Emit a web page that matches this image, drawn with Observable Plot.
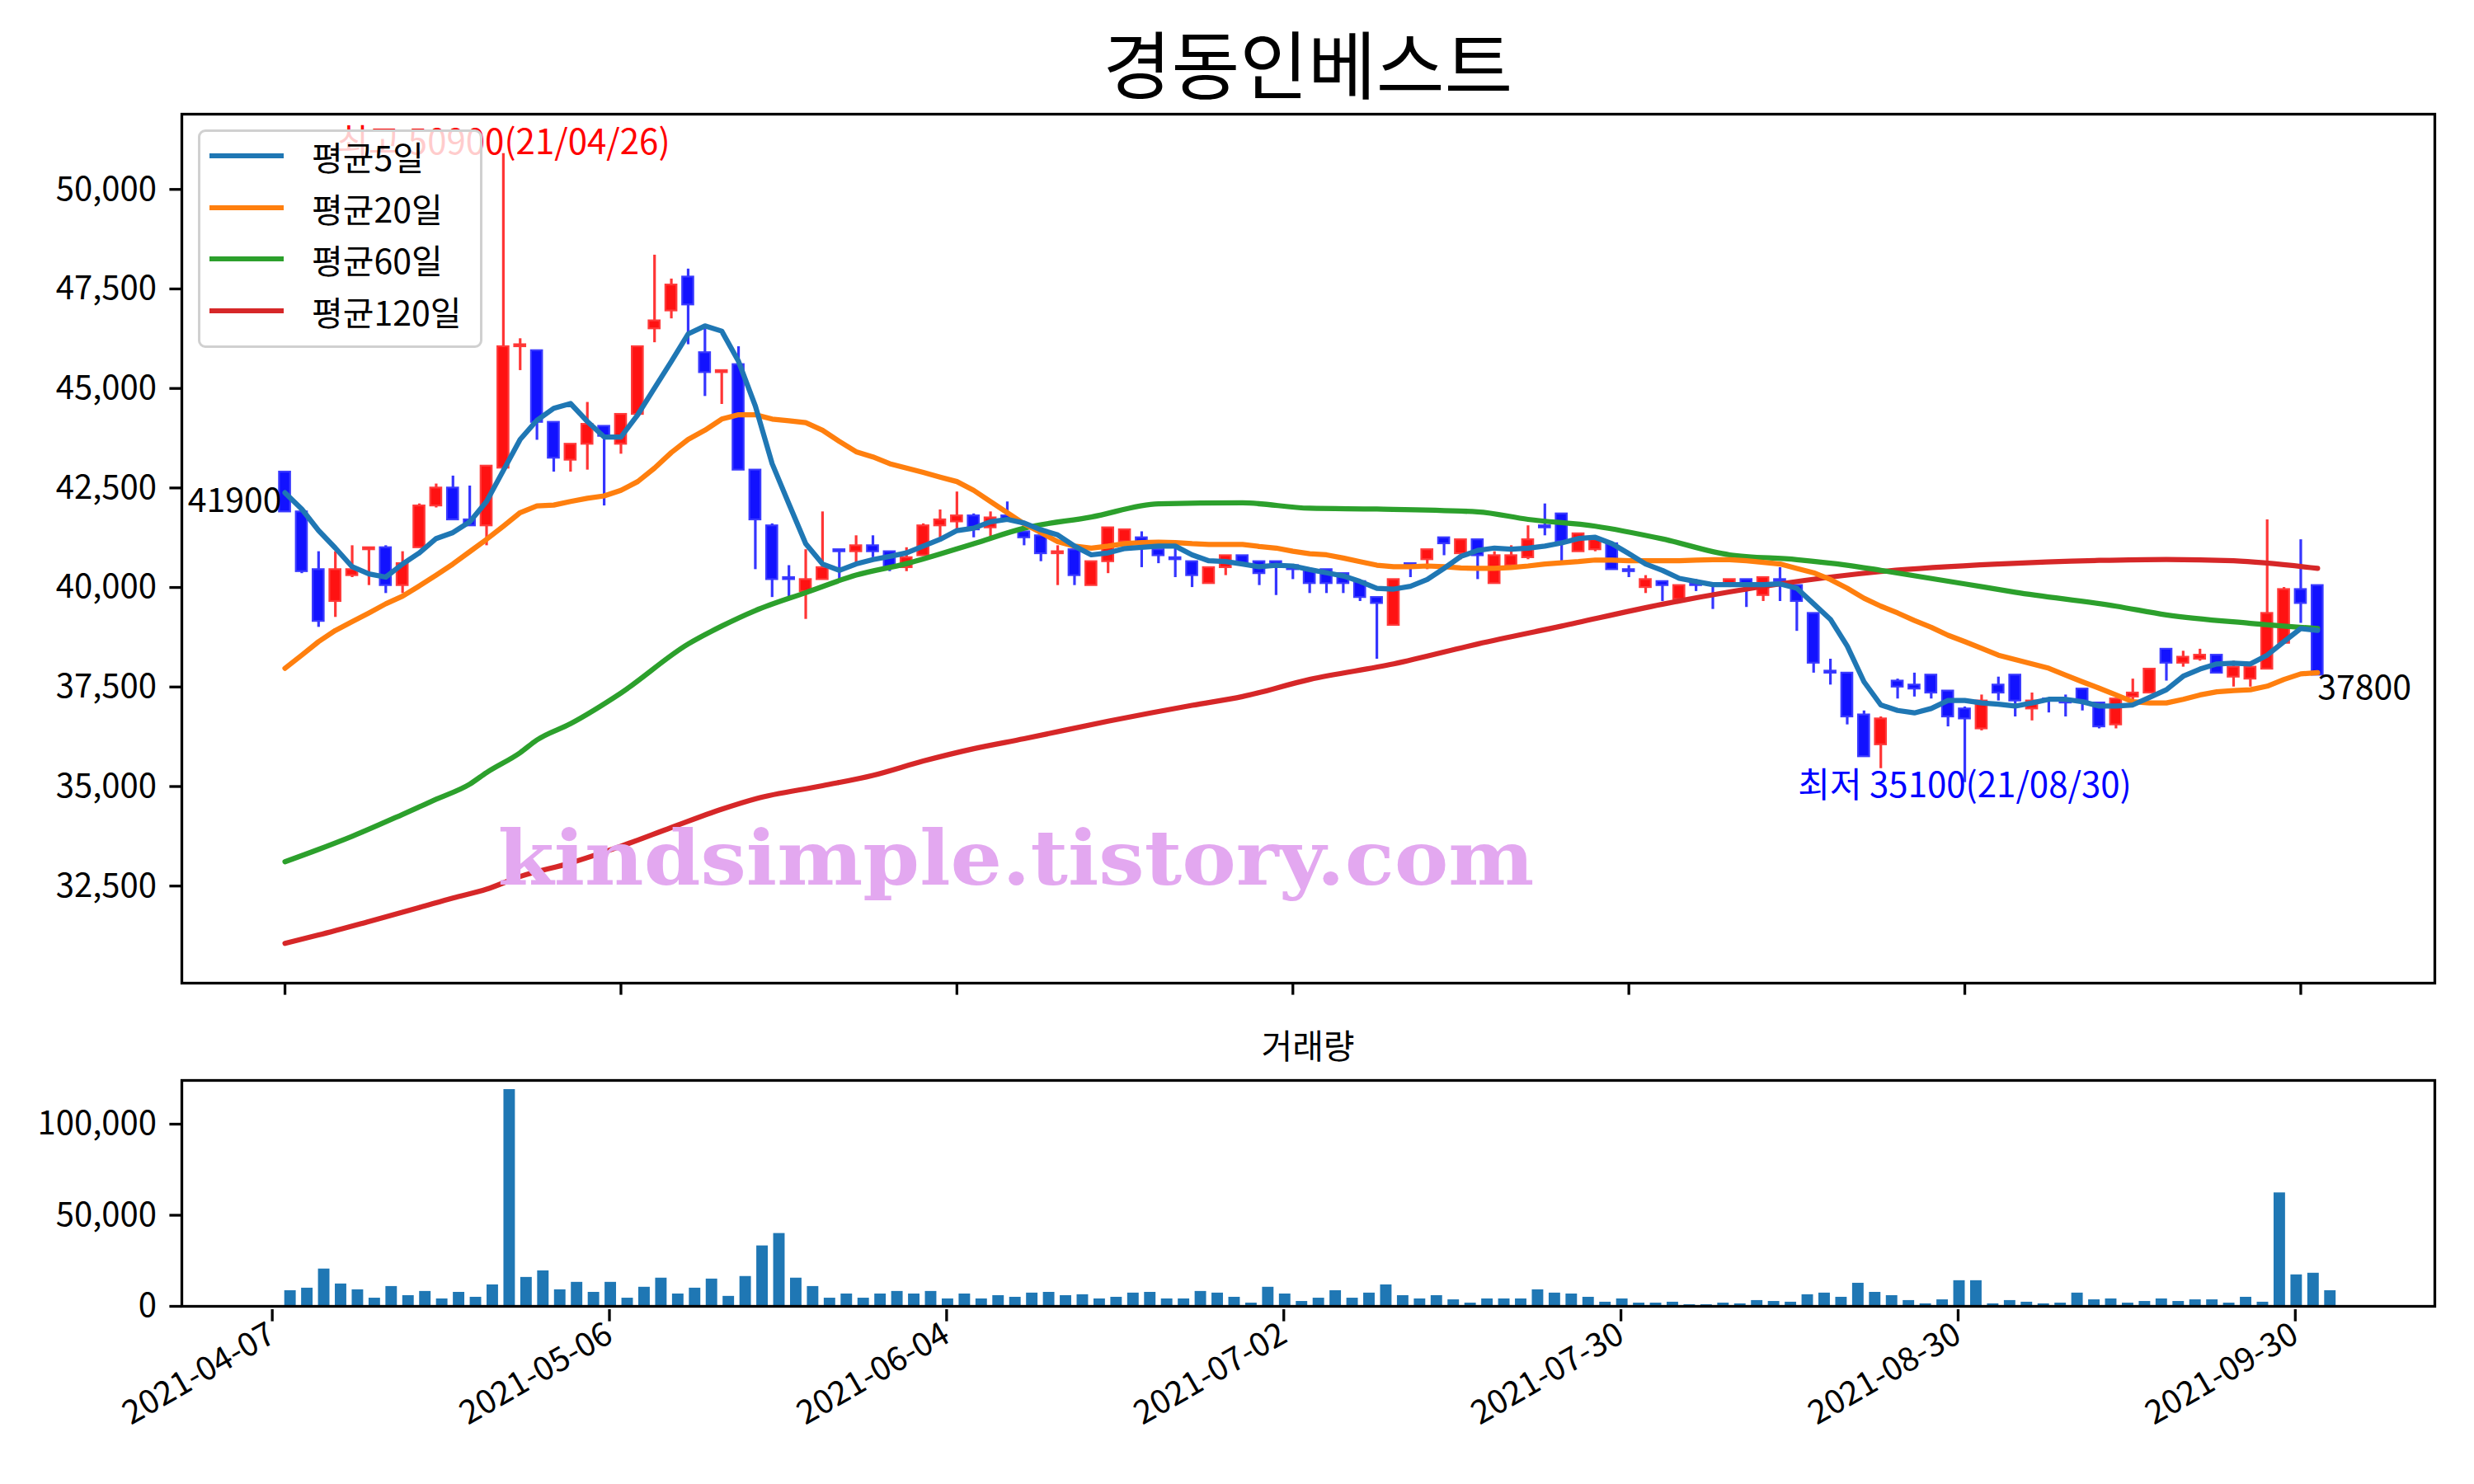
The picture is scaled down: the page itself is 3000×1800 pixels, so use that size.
<!DOCTYPE html>
<html>
<head>
<meta charset="utf-8">
<script src="https://cdn.jsdelivr.net/npm/d3@7"></script>
<script src="https://cdn.jsdelivr.net/npm/@observablehq/plot@0.6"></script>
<style>
  html, body { margin: 0; padding: 0; background: #fff; }
  #wrap { position: relative; width: 3000px; height: 1800px; background: #fff; font-family: 'Noto Sans CJK KR', 'Noto Sans', sans-serif; }
  #wrap > * { position: absolute; }
  .ttl { text-align: center; color: #000; white-space: nowrap; }
  #legend { left: 240px; top: 157px; width: 345px; height: 265px; box-sizing: border-box;
            background: rgba(255,255,255,0.8); border: 3px solid #d0d0d0; border-radius: 9px; }
  #legend .row { position: absolute; left: 0; height: 50px; }
  #legend .sw { position: absolute; left: 11px; width: 90px; height: 6px; top: 22px; }
  #legend .lb { position: absolute; left: 135px; top: 0; font-size: 41px; line-height: 50px; color: #000; white-space: nowrap; }
</style>
</head>
<body>
<div id="wrap"></div>
<script>
// ---------------- data ----------------
const title = "경동인베스트";
const volumeTitle = "거래량";
const dates = [
"2021-04-07","2021-04-08","2021-04-09","2021-04-12","2021-04-13","2021-04-14","2021-04-15","2021-04-16","2021-04-19","2021-04-20",
"2021-04-21","2021-04-22","2021-04-23","2021-04-26","2021-04-27","2021-04-28","2021-04-29","2021-04-30","2021-05-03","2021-05-04",
"2021-05-06","2021-05-07","2021-05-10","2021-05-11","2021-05-12","2021-05-13","2021-05-14","2021-05-17","2021-05-18","2021-05-20",
"2021-05-21","2021-05-24","2021-05-25","2021-05-26","2021-05-27","2021-05-28","2021-05-31","2021-06-01","2021-06-02","2021-06-03",
"2021-06-04","2021-06-07","2021-06-08","2021-06-09","2021-06-10","2021-06-11","2021-06-14","2021-06-15","2021-06-16","2021-06-17",
"2021-06-18","2021-06-21","2021-06-22","2021-06-23","2021-06-24","2021-06-25","2021-06-28","2021-06-29","2021-06-30","2021-07-01",
"2021-07-02","2021-07-05","2021-07-06","2021-07-07","2021-07-08","2021-07-09","2021-07-12","2021-07-13","2021-07-14","2021-07-15",
"2021-07-16","2021-07-19","2021-07-20","2021-07-21","2021-07-22","2021-07-23","2021-07-26","2021-07-27","2021-07-28","2021-07-29",
"2021-07-30","2021-08-02","2021-08-03","2021-08-04","2021-08-05","2021-08-06","2021-08-09","2021-08-10","2021-08-11","2021-08-12",
"2021-08-13","2021-08-17","2021-08-18","2021-08-19","2021-08-20","2021-08-23","2021-08-24","2021-08-25","2021-08-26","2021-08-27",
"2021-08-30","2021-08-31","2021-09-01","2021-09-02","2021-09-03","2021-09-06","2021-09-07","2021-09-08","2021-09-09","2021-09-10",
"2021-09-13","2021-09-14","2021-09-15","2021-09-16","2021-09-17","2021-09-23","2021-09-24","2021-09-27","2021-09-28","2021-09-29",
"2021-09-30","2021-10-01"];
const open = [
42900,41900,40450,39650,40300,40950,41000,40050,41000,42050,42500,41700,41550,43000,46050,45950,44150,43200,43600,44050,
43600,44350,46500,46950,47800,45900,45400,45600,42950,41550,40250,39900,40200,40950,40900,41050,40900,40500,40800,41550,
41650,41800,41500,41800,41400,41300,40850,40950,40050,40650,41150,41250,40950,40750,40650,40100,40500,40800,40650,40650,
40550,40450,40450,40350,40150,39750,39050,40600,40700,41250,40850,41200,40100,40550,40750,41550,41850,40900,40950,41100,
40450,40000,40150,39700,40100,40100,40050,40200,39800,40200,40050,39350,37900,37850,36800,36050,37650,37550,37800,37400,
36950,36450,37550,37800,36950,37200,37150,37450,37100,36550,37250,37350,38450,38100,38200,38300,37750,37700,37950,38600,
39950,40050];
const high = [
42900,41900,40900,40900,41050,41000,41050,40900,42100,42600,42800,42550,43050,50900,46250,45950,44150,43600,44650,44050,
44350,46050,48350,47750,48000,46500,45450,46050,42950,41600,40550,40950,41900,40950,41300,41300,40900,41000,41600,41950,
42400,41850,41900,42150,41400,41300,41050,40950,40650,41500,41450,41400,40950,41000,40650,40500,40800,40800,40650,40650,
40550,40450,40450,40350,40150,39750,40200,40600,40950,41250,41200,41200,40900,41050,41550,42100,41850,41350,41200,41100,
40550,40300,40150,40050,40200,40100,40200,40200,40250,40500,40050,39350,38200,37850,36900,36750,37700,37850,37800,37400,
37000,37300,37750,37800,37350,37200,37300,37450,37100,37200,37700,37950,38450,38400,38450,38300,38150,38000,41700,40000,
41200,40050];
const low = [
41900,40350,39000,39250,40250,40050,39850,39850,41000,42000,41700,41550,41050,43000,45450,43700,42900,42900,42950,42050,
43350,44350,46150,46750,46100,44800,44600,42950,40450,39750,39750,39200,40200,40200,40600,40750,40400,40400,40800,41250,
41450,41250,41200,41700,41050,40650,40050,40050,40050,40350,41150,40500,40600,40250,40000,40100,40300,40600,40050,39800,
40200,39850,39850,39850,39650,38200,39050,40250,40450,40800,40700,40200,40100,40550,40700,41300,40650,40900,40900,40450,
40250,39850,39650,39700,39900,39450,40000,39500,39650,39650,38900,37850,37550,36550,35750,35450,37200,37250,37200,36500,
35100,36400,37150,36750,36650,36850,36750,36900,36450,36450,37150,37350,37650,38000,38150,37850,37500,37500,37950,38600,
39100,37800];
const close = [
41900,40400,39150,40450,40450,41000,40050,40600,42050,42500,41700,41550,43050,46050,46100,44150,43250,43600,44100,43800,
44350,46050,46700,47600,47100,45400,45450,42950,41700,40200,40200,40200,40500,40900,41050,40900,40500,40750,41550,41700,
41800,41450,41750,41700,41250,40850,40900,40300,40650,41500,41450,41100,40800,40700,40300,40500,40800,40600,40350,40550,
40450,40100,40100,40100,39750,39600,40200,40500,40950,41100,41200,40800,40800,40800,41200,41500,41150,41350,41200,40450,
40400,40200,40050,40050,40050,40050,40200,40100,40250,40150,39650,38100,37850,36750,35750,36700,37500,37450,37350,36750,
36700,37150,37350,37150,37150,37150,37100,37150,36500,37200,37350,37950,38100,38250,38300,37850,38000,38000,39350,39950,
39600,37800];
const volume = [
8600,10000,20500,12300,9100,4500,10900,5900,8200,4100,7700,5000,11800,119000,15900,19500,9100,13200,7700,13200,
4500,10500,15500,6800,10000,15000,5500,16400,33200,40000,15500,10900,4500,6800,4500,6800,8200,6800,8200,4100,
6800,4100,5900,5000,7300,7700,5900,6400,4100,5000,7300,7700,4100,4100,8200,7300,5000,1800,10500,6800,
2700,4500,8600,4500,7300,11800,5900,4100,5900,3600,1800,4100,4100,4100,9100,7300,6800,5000,2300,4100,
1800,1800,2300,900,900,1800,1400,3200,2700,2300,6400,7300,5000,12700,7700,5900,3200,1400,3600,14100,
14100,1400,3200,2300,1400,1800,7300,3600,4100,1800,2700,4100,2700,3600,3600,1800,5000,2300,62300,17300,
18200,8600];
const ma5 = [
42380,41970,41430,40990,40520,40340,40260,40590,40870,41230,41380,41650,42160,42940,43720,44200,44500,44620,44170,43780,
43780,44340,45010,45680,46370,46570,46440,45680,44560,43110,42100,41100,40590,40430,40590,40700,40780,40870,41040,41210,
41430,41490,41650,41710,41620,41450,41320,41040,40820,40870,40980,41010,41040,41040,40820,40670,40650,40590,40520,40560,
40540,40450,40370,40290,40150,39980,39960,40030,40200,40480,40780,40930,40990,40960,40990,41040,41120,41230,41260,41100,
40850,40590,40430,40230,40150,40070,40070,40070,40070,40090,39980,39590,39200,38530,37630,37050,36910,36850,36960,37160,
37160,37100,37070,37020,37100,37190,37190,37130,37020,37020,37050,37240,37430,37770,37950,38080,38100,38080,38300,38640,
38970,38920];
const ma20 = [
37970,38300,38640,38920,39140,39360,39590,39780,40040,40310,40590,40900,41210,41540,41880,42050,42070,42160,42240,42300,
42440,42660,43000,43390,43720,43950,44230,44340,44340,44230,44190,44140,43950,43670,43410,43280,43110,43000,42890,42770,
42660,42440,42160,41880,41600,41380,41150,41040,40990,41040,41100,41130,41140,41130,41100,41080,41080,41080,41030,40990,
40910,40850,40820,40740,40650,40560,40520,40520,40540,40520,40490,40480,40480,40500,40540,40590,40620,40650,40690,40690,
40670,40670,40670,40670,40690,40700,40700,40670,40630,40590,40480,40370,40200,39980,39730,39530,39360,39170,39000,38800,
38640,38470,38300,38190,38080,37970,37800,37630,37470,37300,37130,37100,37100,37190,37300,37380,37410,37430,37520,37690,
37830,37860];
const ma60Idx = [0,2,4,7,9,11,12,14,15,17,20,24,26,28,31,34,37,41,44,48,52,57,61,65,71,74,78,82,86,90,93,95,100,103,109,112,117,121];
const ma60 = [33110,33420,33750,34300,34680,35060,35350,35850,36170,36580,37350,38580,39030,39420,39870,40310,40600,41100,41490,41770,42100,42125,41990,41970,41900,41710,41540,41220,40820,40700,40560,40430,40090,39880,39530,39310,39100,38970];
const ma120Idx = [0,2,5,8,10,12,14,17,20,23,26,28,32,35,38,41,44,49,54,57,61,66,71,76,82,89,95,102,108,112,116,121];
const ma120 = [31060,31270,31610,31960,32200,32420,32740,33080,33500,33970,34430,34690,35020,35280,35640,35950,36200,36640,37040,37260,37690,38080,38580,39030,39580,40090,40400,40590,40680,40705,40670,40480];
const seriesNames = ["평균5일","평균20일","평균60일","평균120일"];
const seriesColors = ["#1f77b4","#ff7f0e","#2ca02c","#d62728"];
const priceTicks = [32500,35000,37500,40000,42500,45000,47500,50000];
const volumeTicks = [0,50000,100000];
const dateTickIdx = [0,20,40,60,80,100,120];
const highNote = "최고 50900(21/04/26)";
const lowNote = "최저 35100(21/08/30)";
const watermark = "kindsimple.tistory.com";

// ---------------- build ----------------
const n = dates.length;
const candles = d3.range(n).map(i => ({
  i, o: open[i], h: high[i], l: low[i], c: close[i],
  up: close[i] >= open[i]
}));
const maRows = (name, idx, vals) => idx.map((x, k) => ({x, y: vals[k], name}));
const ma5Rows = maRows(seriesNames[0], d3.range(n), ma5);
const ma20Rows = maRows(seriesNames[1], d3.range(n), ma20);
const ma60Rows = maRows(seriesNames[2], ma60Idx, ma60);
const ma120Rows = maRows(seriesNames[3], ma120Idx, ma120);
const volRows = d3.range(n).map(i => ({i, v: volume[i]}));

const hiIdx = d3.maxIndex(high), loIdx = d3.minIndex(low);
const FONT = "'Noto Sans CJK KR', 'Noto Sans', sans-serif";
const LW = 6.25;

const wrap = document.getElementById("wrap");

const main = Plot.plot({
  width: 3000, height: 1240,
  marginLeft: 220, marginRight: 48, marginTop: 138, marginBottom: 48,
  style: {fontFamily: FONT, fontSize: "40px", color: "#000", background: "transparent", overflow: "visible"},
  x: {type: "linear", domain: [-6.14, 127.98]},
  y: {domain: [30060, 51890]},
  marks: [
    Plot.axisY({ticks: priceTicks, tickFormat: d3.format(","), tickSize: 14.6, tickPadding: 16, strokeWidth: 3.3, label: null, fontSize: 40}),
    Plot.axisX({ticks: dateTickIdx, tickFormat: () => "", tickSize: 14.6, strokeWidth: 3.3, label: null}),
    Plot.ruleX(candles, {x: "i", y1: "l", y2: "h", stroke: d => d.up ? "#ff3535" : "#3535ff", strokeWidth: 3.2}),
    Plot.rect(candles, {
      x1: d => d.i - 0.33, x2: d => d.i + 0.33,
      y1: d => Math.min(d.o, d.c), y2: d => Math.max(d.o, d.c),
      fill: d => d.up ? "#ff1212" : "#1212ff",
      stroke: d => d.up ? "#ff3a3a" : "#3a3aff", strokeWidth: 2.2
    }),
    Plot.line(ma120Rows, {x: "x", y: "y", stroke: seriesColors[3], strokeWidth: LW, curve: "monotone-x"}),
    Plot.line(ma60Rows, {x: "x", y: "y", stroke: seriesColors[2], strokeWidth: LW, curve: "monotone-x"}),
    Plot.line(ma20Rows, {x: "x", y: "y", stroke: seriesColors[1], strokeWidth: LW}),
    Plot.line(ma5Rows, {x: "x", y: "y", stroke: seriesColors[0], strokeWidth: LW}),
    Plot.text([close[0]], {x: 0, y: d => d, text: d => String(d), textAnchor: "end", lineAnchor: "bottom", dx: -4, fontSize: 41, fill: "#000"}),
    Plot.text([close[n - 1]], {x: n - 1, y: d => d, text: d => String(d), textAnchor: "start", lineAnchor: "top", fontSize: 41, fill: "#000"}),
    Plot.text([high[hiIdx]], {x: hiIdx, y: d => d + 260, text: () => highNote, textAnchor: "middle", lineAnchor: "middle", fontSize: 42, fill: "#ff0000"}),
    Plot.text([low[loIdx]], {x: loIdx, y: d => d - 90, text: () => lowNote, textAnchor: "middle", lineAnchor: "middle", fontSize: 42, fill: "#0000ff"}),
    Plot.text([watermark], {text: d => d, frameAnchor: "top-left", dx: 1011.5, dy: 934, textAnchor: "middle", lineAnchor: "bottom",
      fontSize: 92, fontWeight: 900, fontFamily: "'DejaVu Serif', 'Liberation Serif', serif", fill: "#e3a8f0", className: "wm"}),
    Plot.frame({stroke: "#000", strokeWidth: 3.3})
  ]
});
main.style.left = "0px"; main.style.top = "0px";
wrap.appendChild(main);
// fit watermark width
d3.select(main).selectAll(".wm text").attr("textLength", 1257).attr("lengthAdjust", "spacingAndGlyphs");

const vol = Plot.plot({
  width: 3000, height: 540,
  marginLeft: 220, marginRight: 48, marginTop: 50, marginBottom: 216,
  style: {fontFamily: FONT, fontSize: "40px", color: "#000", background: "transparent", overflow: "visible"},
  x: {type: "linear", domain: [-6.44, 127.2]},
  y: {domain: [0, 124000]},
  marks: [
    Plot.axisY({ticks: volumeTicks, tickFormat: d3.format(","), tickSize: 14.6, tickPadding: 16, strokeWidth: 3.3, label: null, fontSize: 40}),
    Plot.axisX({ticks: dateTickIdx, tickFormat: i => dates[i], tickSize: 14.6, tickPadding: 12, tickRotate: -30, strokeWidth: 3.3, label: null, fontSize: 40, dx: -22, dy: 4}),
    Plot.rectY(volRows, {x1: d => d.i - 0.34, x2: d => d.i + 0.34, y: "v", fill: "#1f77b4"}),
    Plot.frame({stroke: "#000", strokeWidth: 3.3})
  ]
});
vol.style.left = "0px"; vol.style.top = "1260px";
wrap.appendChild(vol);

// titles
const t = document.createElement("div");
t.className = "ttl";
t.textContent = title;
Object.assign(t.style, {left: "586px", width: "2000px", top: "24px", fontSize: "90px", lineHeight: "100px"});
wrap.appendChild(t);

const vt = document.createElement("div");
vt.className = "ttl";
vt.textContent = volumeTitle;
Object.assign(vt.style, {left: "586px", width: "2000px", top: "1240px", fontSize: "41px", lineHeight: "52px"});
wrap.appendChild(vt);

// legend
const lg = document.createElement("div");
lg.id = "legend";
seriesNames.forEach((name, k) => {
  const row = document.createElement("div");
  row.className = "row";
  row.style.top = (4 + k * 62.7) + "px";
  row.style.width = "330px";
  const sw = document.createElement("div");
  sw.className = "sw";
  sw.style.background = seriesColors[k];
  const lb = document.createElement("div");
  lb.className = "lb";
  lb.textContent = name;
  row.appendChild(sw); row.appendChild(lb);
  lg.appendChild(row);
});
wrap.appendChild(lg);
</script>
</body>
</html>
